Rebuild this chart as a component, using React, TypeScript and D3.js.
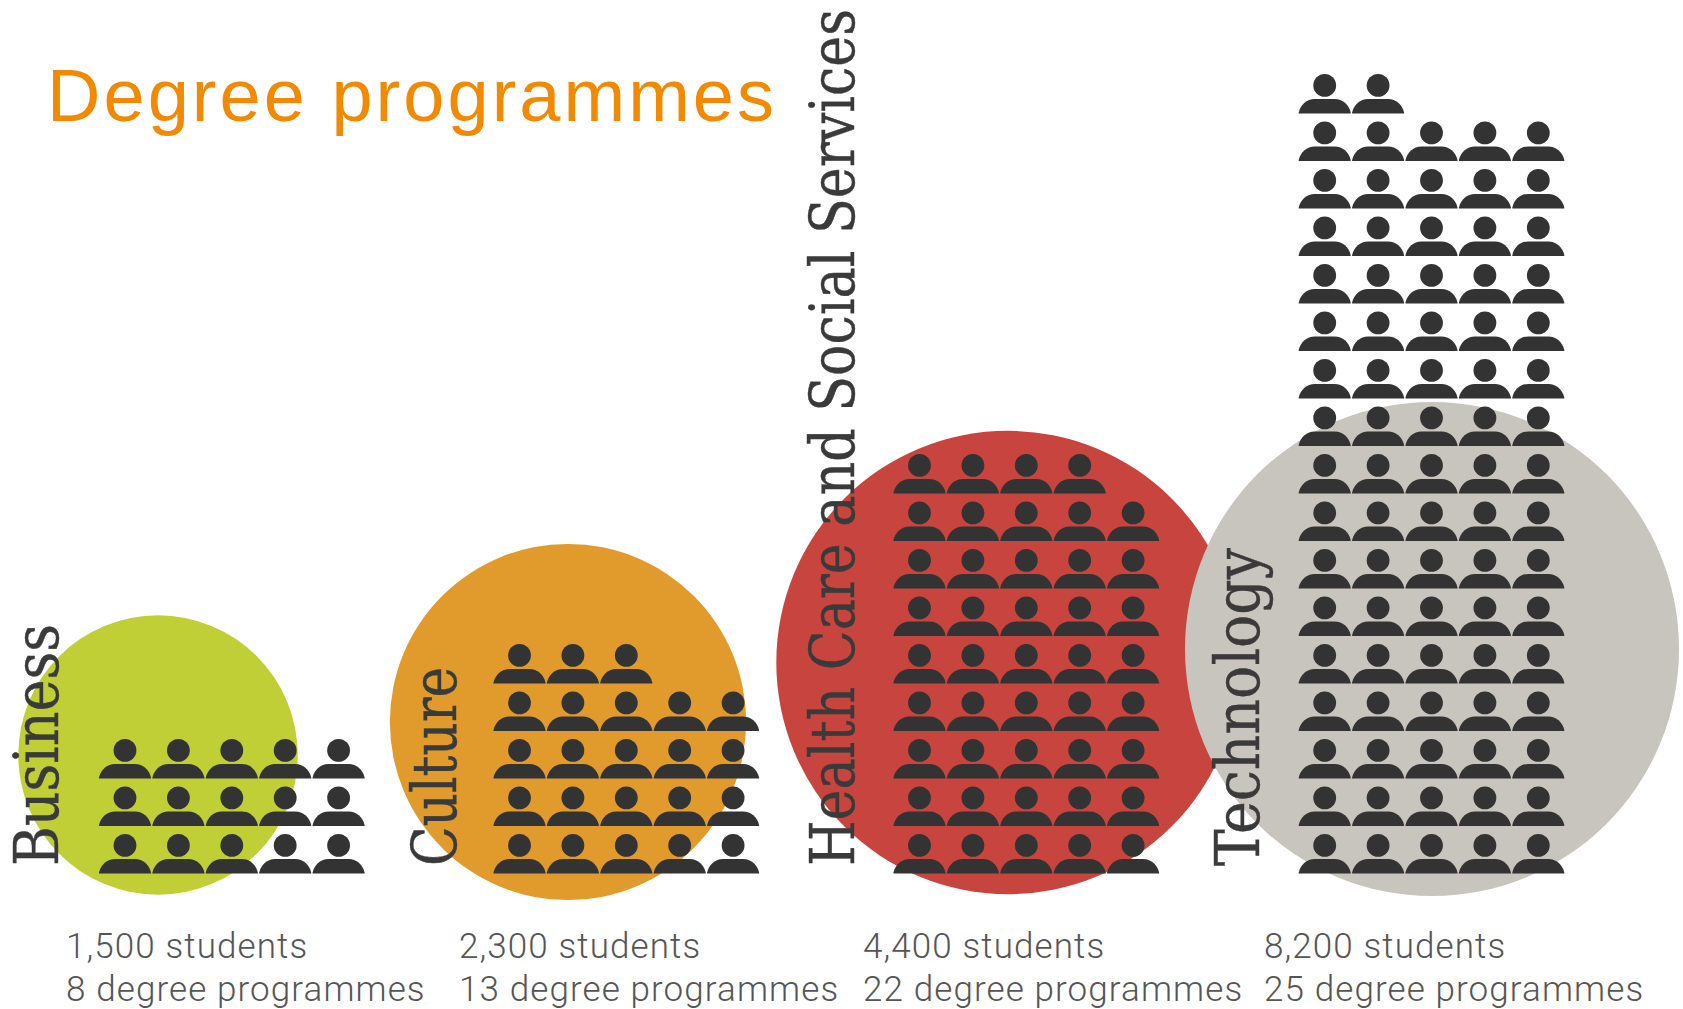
import React from "react";
import * as d3 from "d3";

const faculties = ["Business", "Culture", "Health Care and Social Services", "Technology"];
const students = [1500, 2300, 4400, 8200];
const programmes = [8, 13, 22, 25];
const circleColors = ["#c1cf36", "#e09b2c", "#c8453f", "#c8c4be"];

const studentsPerIcon = 100;
const iconsPerRow = 5;
const width = 1683;
const height = 1009;

// layout per faculty
const gridLeft = [125, 519.5, 919.5, 1324.7];
const circleX = [158, 568, 1008, 1432];
const circleY = [755, 722, 662.5, 649];
const labelX = [58, 456, 854, 1259];
const labelLength = [242, 199, 857, 318];
const captionX = [66, 459, 863, 1264];

const radius = d3.scaleSqrt().domain([0, 25]).range([0, 247]);
const rowY = d3.scaleLinear().domain([0, 16]).range([873.4, 113.4]);
const colX = d3.scaleLinear().domain([0, 4]).range([0, 213.6]);

// person glyph, origin at the middle of the bottom edge
const bodyPath = (() => {
  const p = d3.path();
  p.moveTo(-26, 0);
  p.lineTo(-26, -1);
  p.bezierCurveTo(-24, -9, -18, -14.5, -10, -14.5);
  p.lineTo(10, -14.5);
  p.bezierCurveTo(18, -14.5, 24, -9, 26, -1);
  p.lineTo(26, 0);
  p.closePath();
  return p.toString();
})();

const App: React.FC = () => {
  return (
    <svg
      width={width}
      height={height}
      style={{ position: "absolute", left: 0, top: 0, background: "#fff" }}
    >
      {faculties.map((f, i) => (
        <circle key={f} cx={circleX[i]} cy={circleY[i]} r={radius(programmes[i])} fill={circleColors[i]} />
      ))}

      {faculties.map((f, i) => (
        <text
          key={f}
          transform={`translate(${labelX[i]},866) rotate(-90)`}
          fontFamily="'DejaVu Serif Condensed', 'DejaVu Serif', serif"
          fontSize={61}
          fill="#3a3a3a"
          stroke="#3a3a3a"
          strokeWidth={0.4}
          textLength={labelLength[i]}
          lengthAdjust="spacingAndGlyphs"
        >
          {f}
        </text>
      ))}

      {faculties.map((f, i) => (
        <g key={f}>
          {d3.range(students[i] / studentsPerIcon).map((n) => {
            const rows = Math.ceil(students[i] / studentsPerIcon / iconsPerRow);
            // the partly filled row sits on top, the count fills from the top left
            const total = students[i] / studentsPerIcon;
            const fromTop = total % iconsPerRow || iconsPerRow;
            const row = n < fromTop ? rows - 1 : rows - 2 - Math.floor((n - fromTop) / iconsPerRow);
            const col = n < fromTop ? n : (n - fromTop) % iconsPerRow;
            return (
              <g key={n} transform={`translate(${gridLeft[i] + colX(col)},${rowY(row)})`} fill="#333333">
                <circle cy={-28} r={11.4} />
                <path d={bodyPath} />
              </g>
            );
          })}
        </g>
      ))}

      <text
        x={47}
        y={121}
        fontFamily="'Liberation Sans', Arial, sans-serif"
        fontSize={74}
        fill="#f18a00"
        textLength={727}
      >
        Degree programmes
      </text>

      {faculties.map((f, i) => (
        <g key={f} fontFamily="Roboto, sans-serif" fontWeight={300} fontSize={35} fill="#555555" letterSpacing={1.1}>
          <text x={captionX[i]} y={958}>
            {d3.format(",")(students[i])} students
          </text>
          <text x={captionX[i]} y={1001}>
            {programmes[i]} degree programmes
          </text>
        </g>
      ))}
    </svg>
  );
};

export default App;
